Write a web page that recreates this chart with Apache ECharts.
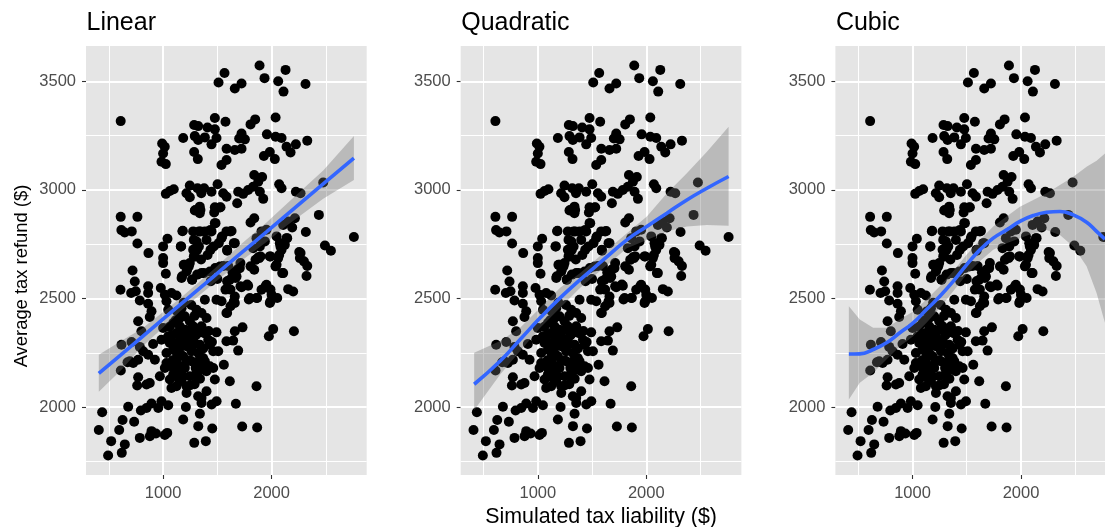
<!DOCTYPE html>
<html><head><meta charset="utf-8">
<style>html,body{margin:0;padding:0;background:#fff;overflow:hidden}#c{width:1105px;height:527px}</style>
<script src="https://cdn.jsdelivr.net/npm/echarts@6/dist/echarts.min.js"></script>
</head><body><div id="c"></div>
<script>
const panelTitles=['Linear','Quadratic','Cubic'];
const xTicks=[1000,2000], xMinor=[500,1500,2500];
const yTicks=[2000,2500,3000,3500], yMinor=[1750,2250,2750,3250];
const points=[[1566,3539],[1511,3495],[609,3317],[1477,3331],[1575,3314],[1286,3299],[1323,3294],[1409,3288],[1477,3279],[1185,3239],[1292,3248],[1323,3230],[1385,3242],[1492,3239],[1446,3210],[991,3214],[1015,3199],[1000,3168],[985,3130],[1025,3119],[1286,3175],[1320,3142],[1585,3190],[1585,3138],[1538,3115],
[1025,2982],[1062,2995],[1098,3003],[1246,3020],[1215,2985],[1246,2966],[1317,3008],[1378,3008],[1352,2985],[1446,2992],[1502,3026],[1554,2985],[1585,2969],[1338,2923],[1292,2905],[1338,2893],[1523,2919],[1477,2920],[1471,2896],
[609,2876],[763,2876],[615,2815],[646,2804],[711,2809],[763,2753],[865,2709],[1040,2775],[1000,2740],[1163,2740],[1178,2810],[1277,2809],[1330,2809],[1385,2809],[1446,2809],[1477,2847],[1308,2763],[1277,2724],
[1889,3573],[2129,3553],[1935,3515],[2061,3501],[1723,3490],[1661,3467],[2313,3488],[2110,3453],[2037,3334],[1849,3325],[1806,3302],[1723,3260],[1754,3233],[1701,3237],[1957,3256],[2037,3245],[2092,3239],[2329,3227],[2224,3210],[2138,3199],[2175,3173],[1661,3184],[1723,3190],[1984,3175],[1929,3156],[2030,3142],
[1840,3069],[1913,3060],[1877,3038],[1830,3015],[1784,3000],[1892,2992],[1692,2992],[1738,2982],[1923,2959],[1683,2939],[2070,3026],[2092,3008],[2224,2992],[2267,2985],[2476,3034],[1840,2870],[1806,2850],[2436,2885],[2215,2870],[2153,2855],[2107,2839],[2190,2827],[2316,2806],[1907,2809],[1953,2817],[1861,2778],[1938,2763],[1892,2740],[1830,2732],[2759,2783],[2492,2744],[2547,2720],[2255,2714],[2138,2778],[2046,2786],[2076,2755],[2122,2747],[2092,2724],[1984,2694],[1877,2690],[2070,2700],[1584,2809],[1631,2811],[1538,2778],[1661,2755],[1591,2720],
[1886,2686],[2061,2686],[2261,2686],[2329,2650],[1840,2632],[1707,2640],[2046,2655],[2107,2617],[2322,2604],[1677,2601],[1615,2586],[1784,2559],[1723,2552],[1953,2563],[1907,2540],[2000,2517],[2052,2502],[2153,2543],[2199,2532],[1800,2502],[1861,2502],[1984,2479],[1661,2509],[1661,2479],[1584,2433],
[1732,2367],[1661,2349],[2015,2359],[1975,2326],[2206,2349],[1646,2306],[1584,2303],[1692,2260],[1560,2195],[1615,2119],[1861,2096],[1671,2015],[1729,1910],[1867,1906],
[607,2540],[705,2525],[616,2287],[709,2300],[610,2168],[672,2206],
[1354,2019],[1493,2027],[1447,2012],[1210,2000],[1339,1969],[1185,1943],[1324,1912],[1453,1901],[1287,1835],[1394,1843],[1047,2008],[985,2027],[955,1996],[893,2016],[847,1996],[795,1984],[678,2001],[438,1976],[626,1940],[733,1932],[407,1894],[595,1894],[785,1858],[893,1889],[934,1878],[878,1866],[1038,1881],[1016,1871],[521,1843],[647,1828],[619,1789],[493,1777],
[1314,2724],[1283,2770],[1344,2809],[1437,2816],[1483,2847],[1467,2740],[1513,2755],[1544,2786],[1621,2809],[1437,2724],[1590,2724],[1652,2755],[1713,2663],[1683,2633],[1667,2594],[1590,2579],[1775,2564],[1621,2541],[1575,2541],[1713,2556],
[1166,2740],[1181,2812],[1344,2908],[1298,2908],[1483,2916],[1529,2920],[1652,2487],[1621,2464],[1590,2433],[1790,2495],[1867,2502],[1944,2556],[1990,2541],[1990,2487],[1806,2648],[1852,2678],[1898,2694],[1990,2694],[2036,2648],[2098,2617],[2144,2778],[2082,2740],[2267,2709],[2298,2671],
[1293,2693],[1246,2663],[1200,2655],[1000,2686],[1000,2663],[1025,2614],[1216,2624],[1170,2594],[1268,2586],[1354,2617],[1431,2624],[1523,2647],[718,2629],[739,2578],[748,2533],[862,2556],[862,2525],[979,2548],[785,2491],[862,2476],[893,2441],[877,2415],[1016,2517],[1077,2525],[1123,2514],[1031,2487],[1047,2448],[1492,2494],[1539,2487],[1385,2494],[1308,2448],[1354,2433],[1400,2410],[770,2395],[800,2349],[1000,2364],[1154,2410],[1200,2418],[1246,2395],[1277,2372],[1323,2341],[1200,2356],[1154,2326],[1108,2295],[985,2310],[908,2290],[785,2277],[862,2241],[924,2218],[1031,2203],[1062,2295],[1416,2310],[1492,2344],[1508,2257],[1462,2180],[1400,2165],[1308,2157],[1262,2257],[1323,2249],[1369,2226],[1154,2280],[1185,2234],[1123,2211],[1200,2180],[1093,2150],[970,2142],[1062,2127],[1139,2134],[877,2111],[847,2104],[770,2137],[761,2099],[1077,2088],[1216,2096],[1216,2065],[1400,2073],[1477,2127],[1323,2050],[1354,2042],[693,2211],[724,2203],[770,2218],[816,2257],
[1190,2655],[1237,2648],[1283,2694],[1375,2617],[1314,2610],[1267,2587],[1175,2602],[1221,2633],
[1093,2387],[1154,2372],[1246,2356],[1216,2326],[1277,2303],[1123,2341],[1047,2326],[1093,2264],[1154,2249],[1216,2280],[1277,2287],[1339,2287],[1262,2211],[1323,2211],[1385,2211],[1154,2188],[1246,2142],[1308,2142],[1369,2173],[1431,2188],[1185,2142],[1016,2180],[1093,2180],[1354,2372],[1431,2287],[1462,2257],[1123,2096],[1154,2165],[1216,2211],[1031,2249],
[1130,2440],[1170,2455],[1290,2420],[1080,2330],[1185,2310],[1240,2290],[1300,2330],[1380,2340],[1130,2240],[1245,2215],[1300,2180],[1350,2190],[1170,2120],[1250,2100],[1290,2105],[1340,2130],[1090,2215],[1060,2370],[1115,2400],[1420,2350],[1450,2300],[1370,2270],[1190,2480],[1260,2470],
[1410,2700],[1480,2640],[1440,2580],[1500,2590],[1400,2770],[1555,2650],[1600,2650],[1640,2620],[1350,2680],[1330,2740]];
const linX=[407,616,801,985,1155,1462,1707,1953,2138,2476,2759];
const linFit=[2155,2243,2321,2399,2471,2600,2704,2807,2885,3028,3147];
const linHi=[2241,2305,2360,2432,2500,2632,2745,2850,2935,3090,3248];
const linLo=[2070,2172,2275,2360,2440,2568,2668,2760,2835,2960,3046];
const quadX=[413,653,837,1022,1206,1391,1606,1821,2005,2190,2374,2559,2759];
const quadFit=[2105,2212,2311,2411,2503,2587,2679,2770,2832,2893,2954,3008,3062];
const quadHi=[2250,2304,2365,2457,2549,2618,2709,2801,2878,2985,3077,3176,3291];
const quadLo=[1985,2150,2258,2365,2457,2549,2640,2732,2770,2809,2832,2839,2835];
const cubX=[413,514,637,760,883,1006,1129,1252,1375,1498,1621,1744,1867,1990,2113,2236,2359,2482,2605,2697,2774];
const cubFit=[2244,2245,2265,2296,2342,2388,2449,2510,2579,2655,2724,2778,2816,2855,2882,2897,2901,2885,2851,2809,2773];
const cubHi=[2464,2403,2365,2365,2403,2440,2495,2556,2625,2701,2770,2832,2878,2923,2954,2985,3023,3061,3107,3135,3168];
const cubLo=[2035,2112,2158,2219,2280,2326,2388,2456,2533,2610,2671,2724,2755,2778,2801,2816,2793,2740,2648,2525,2388];
const fits=[[linX,linFit,linHi,linLo],[quadX,quadFit,quadHi,quadLo],[cubX,cubFit,cubHi,cubLo]];
const lefts=[86,460.7,835.4];
const grey='#4D4D4D', font='"Liberation Sans",Arial,sans-serif';
const grid=[],xAxis=[],yAxis=[],series=[],title=[];
lefts.forEach((left,i)=>{
  grid.push({left,top:46,width:280.7,height:429,show:true,backgroundColor:'#E5E5E5',borderWidth:0,outerBoundsMode:'none'});
  title.push({text:panelTitles[i],left:left+0.5,top:11,padding:0,textStyle:{fontFamily:font,fontSize:25,fontWeight:'normal',color:'#000'}});
  xAxis.push({type:'value',gridIndex:i,min:289,max:2877,axisLine:{show:false},splitLine:{show:false},
    axisTick:{show:true,length:4,lineStyle:{color:'#333',width:1.1},customValues:xTicks},
    axisLabel:{color:grey,fontFamily:font,fontSize:16.5,margin:10,formatter:v=>String(v),customValues:xTicks},
    ...(i===1?{name:'Simulated tax liability ($)',nameLocation:'middle',nameGap:31,nameTextStyle:{fontFamily:font,fontSize:21.4,color:'#000'}}:{})});
  yAxis.push({type:'value',gridIndex:i,min:1687,max:3663,axisLine:{show:false},splitLine:{show:false},
    axisTick:{show:true,length:4,lineStyle:{color:'#333',width:1.1},customValues:yTicks},
    axisLabel:{color:grey,fontFamily:font,fontSize:16.5,margin:10,formatter:v=>String(v),customValues:yTicks}});
  const line=(v,w,k)=>({[k]:v,lineStyle:{color:'#fff',width:w,type:'solid'}});
  series.push({type:'line',xAxisIndex:i,yAxisIndex:i,data:[],z:1,silent:true,animation:false,
    markLine:{silent:true,symbol:'none',label:{show:false},animation:false,z:1,data:[
      ...xMinor.map(v=>line(v,1,'xAxis')),...yMinor.map(v=>line(v,1,'yAxis')),
      ...xTicks.map(v=>line(v,2,'xAxis')),...yTicks.map(v=>line(v,2,'yAxis'))]}});
  series.push({type:'scatter',xAxisIndex:i,yAxisIndex:i,data:points,symbolSize:10,itemStyle:{color:'#000',opacity:1},z:2,silent:true,animation:false,large:false});
  const [fx,fy,hi,lo]=fits[i];
  series.push({type:'custom',xAxisIndex:i,yAxisIndex:i,z:3,silent:true,animation:false,clip:true,data:[[fx[0],fy[0]]],
    encode:{x:0,y:1},
    renderItem:(p,api)=>{
      const pts=fx.map((x,k)=>api.coord([x,hi[k]])).concat(fx.map((x,k)=>api.coord([x,lo[k]])).reverse());
      return {type:'polygon',shape:{points:pts},style:{fill:'rgba(110,110,110,0.36)'}};
    }});
  series.push({type:'line',xAxisIndex:i,yAxisIndex:i,data:fx.map((x,k)=>[x,fy[k]]),smooth:true,showSymbol:false,symbol:'none',
    lineStyle:{color:'#3366FF',width:3.6},z:4,silent:true,animation:false,clip:true});
});
const chart=echarts.init(document.getElementById('c'),null,{renderer:'canvas'});
chart.setOption({animation:false,backgroundColor:'#fff',title,grid,xAxis,yAxis,series,
  graphic:[{type:'text',x:22,y:276,rotation:Math.PI/2,style:{text:'Average tax refund ($)',font:'18.4px '+font,fill:'#000',textAlign:'center',textVerticalAlign:'middle'}}]});
</script></body></html>
